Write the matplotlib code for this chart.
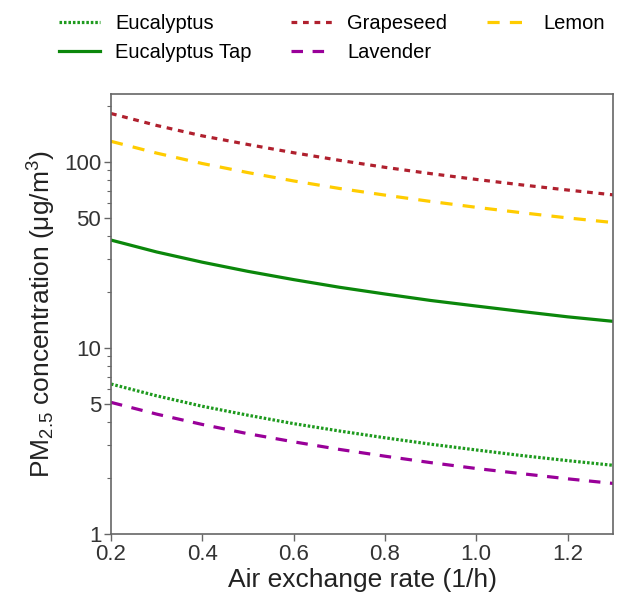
import numpy as np
import matplotlib
matplotlib.use("Agg")
from matplotlib import pyplot as plt
from matplotlib.ticker import FixedLocator, LogLocator, NullFormatter

plt.rcParams['font.family'] = ['Liberation Sans', 'DejaVu Sans']
plt.rcParams['mathtext.fontset'] = 'custom'
plt.rcParams['mathtext.rm'] = 'Liberation Sans'
plt.rcParams['mathtext.it'] = 'Liberation Sans:italic'

# Taxa de troca de ar (1/h)
aer = [0.2, 0.3, 0.4, 0.5, 0.6, 0.7, 0.8, 0.9, 1.0, 1.1, 1.2, 1.3]

# Concentracao de PM2.5 (ug/m3)
eucalyptus = [6.4, 5.53, 4.86, 4.35, 3.92, 3.58, 3.29, 3.04, 2.83, 2.64, 2.48, 2.34]
eucalyptus_tap = [38, 32.8, 28.9, 25.8, 23.3, 21.2, 19.5, 18.0, 16.8, 15.7, 14.7, 13.9]
grapeseed = [182, 157, 138, 124, 112, 102, 93.5, 86.5, 80.5, 75.2, 70.6, 66.5]
lavender = [5.1, 4.41, 3.88, 3.46, 3.13, 2.85, 2.62, 2.42, 2.25, 2.11, 1.98, 1.87]
lemon = [129, 111.5, 98, 87.6, 79, 72, 66.3, 61.3, 57, 53.3, 50, 47.2]

yticks = [1, 5, 10, 50, 100]

fig = plt.figure(figsize=(6.2, 5.98), dpi=100)
ax = fig.add_axes([0.179, 0.107, 0.810, 0.736])

lw = 2.3
ax.plot(aer, eucalyptus, color='#1e9a1e', lw=lw, ls=(0, (0.8, 0.6)), label='Eucalyptus')
ax.plot(aer, eucalyptus_tap, color='#0b870b', lw=lw, ls='-', label='Eucalyptus Tap')
ax.plot(aer, grapeseed, color='#b0202e', lw=lw, ls=(0, (1.8, 1.8)), label='Grapeseed')
ax.plot(aer, lavender, color='#990099', lw=lw, ls=(0, (3.6, 3.0)), label='Lavender')
ax.plot(aer, lemon, color='#ffcc00', lw=lw, ls=(0, (3.8, 3.2)), label='Lemon')

ax.set_yscale('log')
ax.set_xlim(0.2, 1.3)
ax.set_ylim(1, 232)
ax.set_xticks([0.2, 0.4, 0.6, 0.8, 1.0, 1.2])
ax.set_xticklabels(['0.2', '0.4', '0.6', '0.8', '1.0', '1.2'])
ax.yaxis.set_major_locator(FixedLocator(yticks))
ax.set_yticklabels([str(v) for v in yticks])
ax.yaxis.set_minor_locator(LogLocator(base=10, subs=np.arange(2, 10)))
ax.yaxis.set_minor_formatter(NullFormatter())

for s in ax.spines.values():
    s.set_color('#666666')
    s.set_linewidth(1.2)
ax.tick_params(axis='both', which='major', labelsize=16, color='#666666',
               length=5, width=1.0, labelcolor='#333333', pad=2)
ax.tick_params(axis='y', which='minor', color='#666666', length=3, width=0.8)

ax.set_xlabel('Air exchange rate (1/h)', fontsize=19, color='#222222', labelpad=2)
ax.set_ylabel(r'PM$_{2.5}$ concentration (μg/m$^{3}$)', fontsize=19, color='#222222', labelpad=4)

ax.legend(loc='lower left', bbox_to_anchor=(-0.12, 1.055), ncol=3, frameon=False,
          fontsize=14.5, handlelength=2.05, handletextpad=0.75, columnspacing=1.95,
          labelspacing=0.5, borderaxespad=0)

fig.savefig('out.png', dpi=100)
